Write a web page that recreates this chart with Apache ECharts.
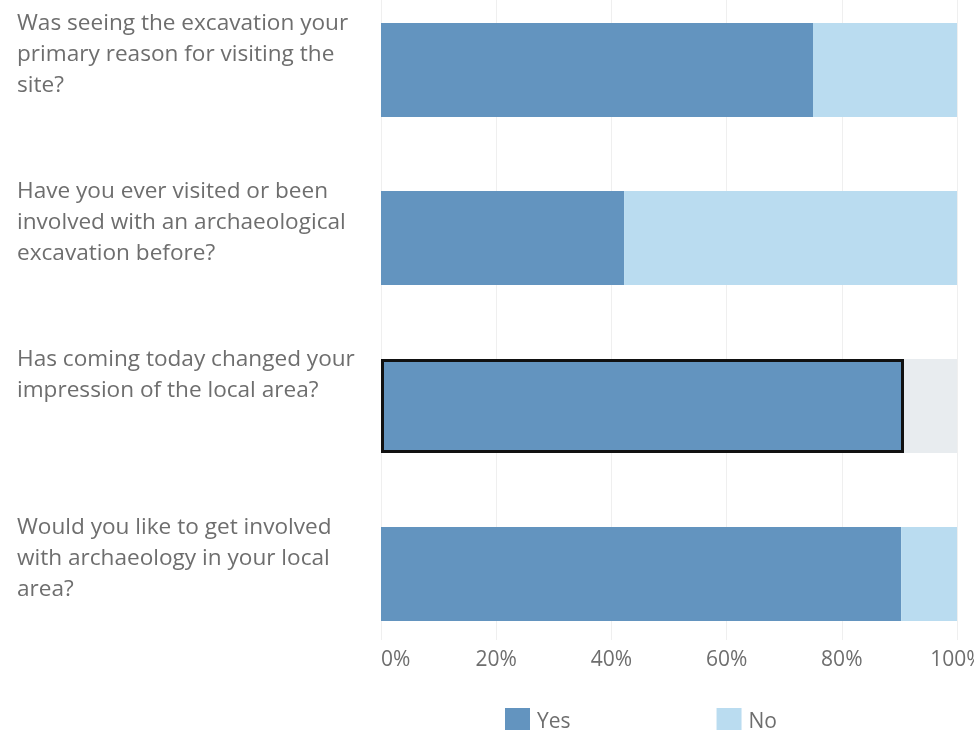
<!DOCTYPE html>
<html>
<head>
<meta charset="utf-8">
<script src="https://cdn.jsdelivr.net/npm/echarts@6/dist/echarts.min.js"></script>
<style>
  html, body { margin: 0; padding: 0; background: #ffffff; }
  #chart { width: 974px; height: 730px; }
</style>
</head>
<body>
<div id="chart"></div>
<script>
// Survey questions (one per bar), answers in percent
const questions = [
  'Was seeing the excavation your\nprimary reason for visiting the\nsite?',
  'Have you ever visited or been\ninvolved with an archaeological\nexcavation before?',
  'Has coming today changed your\nimpression of the local area?',
  'Would you like to get involved\nwith archaeology in your local\narea?'
];
const yesValues = [75, 42.2, 90.8, 90.3];
const noValues = [25, 57.8, 9.2, 9.7];
const seriesNames = ['Yes', 'No'];
const highlightedIndex = 2;

const yesColor = '#6394bf';
const noColor = '#badcf0';
const textColor = '#6e6e6e';
const fontFamily = '"Open Sans", "Noto Sans", sans-serif';

// pad every question to four lines so the first line sits at the bar's top edge
function padLines(text) {
  const lines = text.split('\n');
  while (lines.length < 4) lines.push(' ');
  return lines.join('\n');
}

const chart = echarts.init(document.getElementById('chart'), null, { renderer: 'canvas' });

chart.setOption({
  animation: false,
  backgroundColor: '#ffffff',
  legend: {
    data: seriesNames,
    left: 500,
    top: 703,
    itemWidth: 25,
    itemHeight: 28,
    itemGap: 146,
    icon: 'rect',
    textStyle: { color: textColor, fontSize: 21, fontFamily: fontFamily, padding: [2, 0, 0, 2] }
  },
  grid: [
    // bars
    { left: 381, right: 17, top: -14, height: 672, outerBoundsMode: 'none', containLabel: false },
    // value scale with grid lines and percent labels
    { left: 381, right: 17, top: 0, height: 640, outerBoundsMode: 'none', containLabel: false }
  ],
  xAxis: [
    { gridIndex: 0, type: 'value', min: 0, max: 100, interval: 20, show: false },
    {
      gridIndex: 1, type: 'value', min: 0, max: 100, interval: 20,
      axisLine: { show: false }, axisTick: { show: false },
      splitLine: { lineStyle: { color: '#efefef', width: 1 } },
      axisLabel: {
        formatter: '{value}%', color: textColor, fontSize: 21, fontFamily: fontFamily,
        margin: 10, alignMinLabel: 'left'
      }
    }
  ],
  yAxis: [
    {
      gridIndex: 0, type: 'category', inverse: true, data: questions,
      axisLine: { show: false }, axisTick: { show: false }, splitLine: { show: false },
      axisLabel: {
        align: 'left', margin: 364, color: textColor, fontSize: 22.6, lineHeight: 31,
        fontFamily: fontFamily, verticalAlign: 'middle',
        formatter: padLines
      }
    },
    { gridIndex: 1, type: 'category', data: questions, show: false }
  ],
  series: [
    {
      name: seriesNames[0], type: 'bar', stack: 'answers', xAxisIndex: 0, yAxisIndex: 0,
      barWidth: 94, itemStyle: { color: yesColor },
      data: yesValues.map((v, i) => i === highlightedIndex
        ? { value: v, itemStyle: { borderColor: '#111111', borderWidth: 3 } }
        : v)
    },
    {
      name: seriesNames[1], type: 'bar', stack: 'answers', xAxisIndex: 0, yAxisIndex: 0,
      barWidth: 94, itemStyle: { color: noColor },
      data: noValues.map((v, i) => i === highlightedIndex
        ? { value: v, itemStyle: { color: '#e8ecef' } }
        : v)
    }
  ]
});
</script>
</body>
</html>
